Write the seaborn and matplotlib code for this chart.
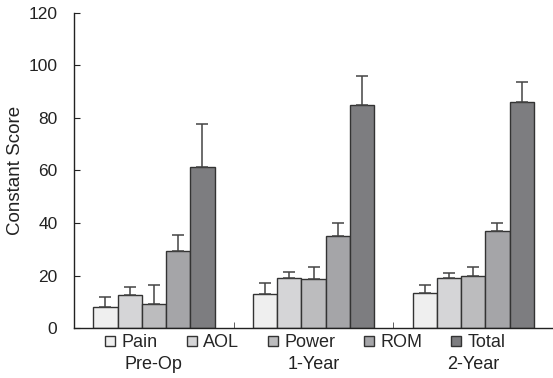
import pandas as pd
import seaborn as sns
import matplotlib.pyplot as plt

timepoints = ["Pre-Op", "1-Year", "2-Year"]
components = ["Pain", "AOL", "Power", "ROM", "Total"]

# mean / sd per component (Pre-Op, 1-Year, 2-Year)
pain_mean = [7.9, 13.0, 13.2]
pain_sd = [3.8, 4.0, 3.3]
aol_mean = [12.6, 19.0, 19.2]
aol_sd = [3.1, 2.5, 1.8]
power_mean = [9.3, 18.7, 19.7]
power_sd = [7.0, 4.5, 3.5]
rom_mean = [29.2, 35.0, 37.1]
rom_sd = [6.2, 4.9, 2.8]
total_mean = [61.2, 84.9, 86.1]
total_sd = [16.5, 11.1, 7.6]

colors = ["#efefef", "#d5d5d7", "#bcbcbe", "#a5a5a8", "#7d7d80"]

means = [pain_mean, aol_mean, power_mean, rom_mean, total_mean]
sds = [pain_sd, aol_sd, power_sd, rom_sd, total_sd]

rows = []
for comp, m_list in zip(components, means):
    for t, m in zip(timepoints, m_list):
        rows.append({"time": t, "component": comp, "score": m})
df = pd.DataFrame(rows)

sns.set_style("ticks")
plt.rcParams['font.family'] = ['Liberation Sans', 'DejaVu Sans']

fig = plt.figure(figsize=(5.53, 3.78), dpi=100)
ax = fig.add_axes([0.134, 0.132, 0.866, 0.834])

sns.barplot(data=df, x="time", y="score", hue="component", order=timepoints,
            hue_order=components, palette=colors, width=0.76, errorbar=None,
            edgecolor="#333333", linewidth=1, legend=False, ax=ax)

bars = list(ax.containers)
# upper-only error bars, placed on the bars seaborn drew
for cont, sd in zip(bars, sds):
    xs = [p.get_x() + p.get_width() / 2 for p in cont.patches]
    ys = [p.get_height() for p in cont.patches]
    ax.errorbar(xs, ys, yerr=[[0] * len(sd), sd], fmt="none", ecolor="#444444",
                elinewidth=1.1, capsize=4, capthick=1.1, zorder=1)

ax.set_xlim(-0.5, 2.5)
ax.set_ylim(0, 120)
ax.set_yticks(range(0, 121, 20))
ax.set_xlabel("")
ax.set_ylabel("Constant Score", fontsize=13.5, labelpad=3, color="#222222")

ax.set_xticks([0.5, 1.5], minor=True)
ax.tick_params(axis="x", which="major", length=0, pad=20, labelsize=13, colors="#222222")
ax.tick_params(axis="x", which="minor", direction="in", length=4, color="#444444")
ax.tick_params(axis="y", direction="in", length=4.5, pad=12, labelsize=12.5, colors="#222222")

sns.despine(ax=ax)
for s in ["left", "bottom"]:
    ax.spines[s].set_color("#222222")
    ax.spines[s].set_linewidth(1)

ax.legend(bars, components, ncol=5, loc="upper center", bbox_to_anchor=(0.483, -0.02),
          frameon=False, handlelength=0.55, handleheight=0.55, handletextpad=0.35,
          columnspacing=1.6, fontsize=13, borderaxespad=0, borderpad=0)

fig.savefig("out.png", dpi=100)
